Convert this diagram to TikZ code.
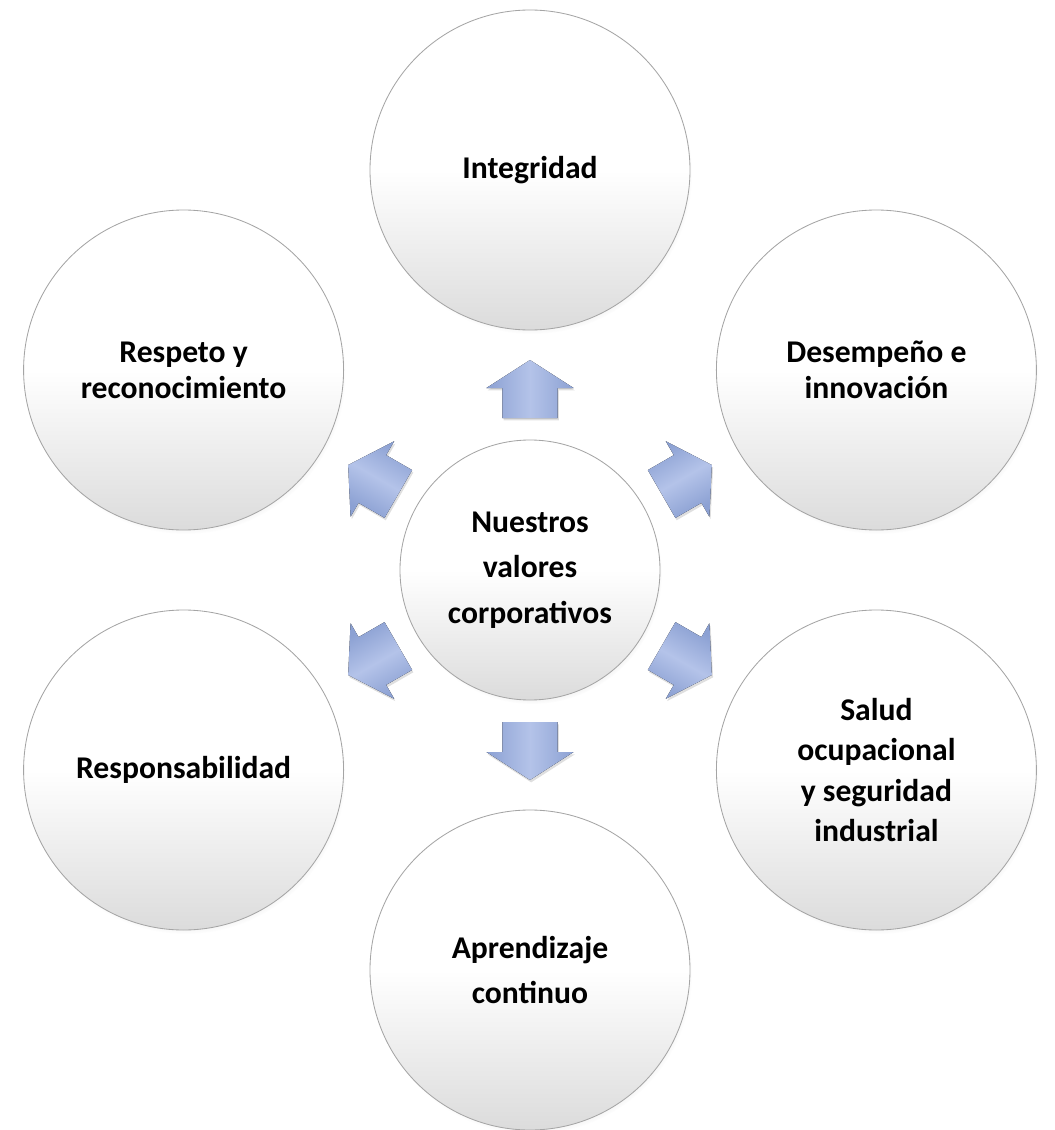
\documentclass[tikz,border=0pt]{standalone}
\usepackage{fontspec}
\setmainfont{Carlito}
\usetikzlibrary{shadows}

\definecolor{flechaoscuro}{RGB}{140,161,211}
\definecolor{flechaclaro}{RGB}{180,195,233}
\definecolor{bordegris}{RGB}{165,165,165}

\tikzset{
	valor/.style={circle, draw=bordegris, line width=0.6pt, inner sep=0pt, minimum size=8cm,
		top color=white, bottom color=black!14, middle color=white,
		align=center, font=\fontsize{22.5}{25.5}\selectfont\bfseries,
		circular drop shadow={shadow xshift=0.05cm, shadow yshift=-0.1cm, shadow scale=1.0, opacity=0.3}},
	flecha/.style={top color=flechaoscuro, bottom color=flechaoscuro, middle color=flechaclaro,
		drop shadow={shadow xshift=0.03cm, shadow yshift=-0.06cm, opacity=0.25}}
}

\begin{document}
\begin{tikzpicture}

	\useasboundingbox (-13.25, -14.0) rectangle (13.125, 14.25);
	
	% centro
	\node (ctr) [valor, minimum size=6.5cm] at (0, 0) {Nuestros\\[7pt] valores\\[7pt] corporativos};
	
	% valores alrededor
	\foreach \i/\a/\n in {1/90/Integridad, 2/30/Desempeño e\\innovación, 3/-30/Salud\\[3pt] ocupacional\\[3pt] y seguridad\\[3pt] industrial, 4/-90/Aprendizaje\\[6.5pt] continuo, 5/-150/Responsabilidad, 6/150/Respeto y\\reconocimiento} {
		\node (v\i) [valor] at (\a:10) {\n};
		
		\begin{scope}[rotate=\a]
			\filldraw [flecha, shading angle=\a, draw=none] (3.8, -0.69) -- (4.55, -0.69) -- (4.55, -1.09) -- (5.25, 0) -- (4.55, 1.09) -- (4.55, 0.69) -- (3.8, 0.69) -- cycle;
		\end{scope}
	}

\end{tikzpicture}
\end{document}
